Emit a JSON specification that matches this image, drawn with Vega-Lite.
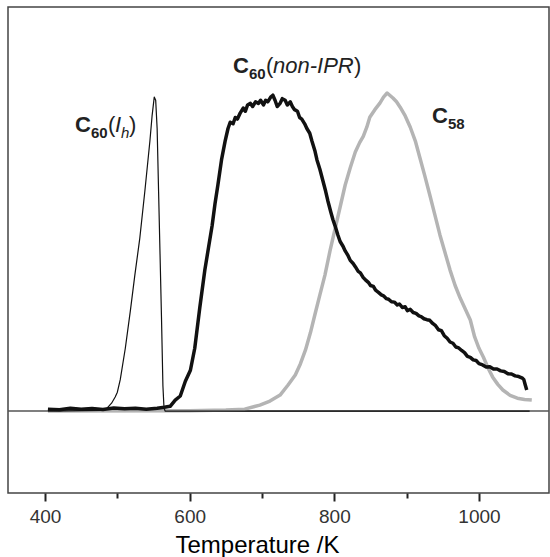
{
  "$schema": "https://vega.github.io/schema/vega-lite/v6.json",
  "width": 541,
  "height": 486,
  "autosize": "none",
  "padding": {"left": 8, "top": 7, "right": 1, "bottom": 64},
  "background": "white",
  "config": {
    "view": {"stroke": "#444", "strokeWidth": 1.5}
  },
  "datasets": {
    "curves": [
      {"s": "base", "T": 348.8, "v": 0},
      {"s": "base", "T": 1096.8, "v": 0},

      {"s": "Ih", "T": 404, "v": 0},
      {"s": "Ih", "T": 480, "v": 0.002},
      {"s": "Ih", "T": 486, "v": 0.01},
      {"s": "Ih", "T": 492, "v": 0.025},
      {"s": "Ih", "T": 497, "v": 0.045},
      {"s": "Ih", "T": 500, "v": 0.06},
      {"s": "Ih", "T": 504, "v": 0.1},
      {"s": "Ih", "T": 511, "v": 0.2},
      {"s": "Ih", "T": 518, "v": 0.32},
      {"s": "Ih", "T": 524, "v": 0.43},
      {"s": "Ih", "T": 531, "v": 0.55},
      {"s": "Ih", "T": 538, "v": 0.7},
      {"s": "Ih", "T": 545, "v": 0.86},
      {"s": "Ih", "T": 548, "v": 0.94},
      {"s": "Ih", "T": 551, "v": 1.0},
      {"s": "Ih", "T": 553, "v": 0.99},
      {"s": "Ih", "T": 555, "v": 0.9},
      {"s": "Ih", "T": 557, "v": 0.7},
      {"s": "Ih", "T": 559, "v": 0.5},
      {"s": "Ih", "T": 561, "v": 0.3},
      {"s": "Ih", "T": 563, "v": 0.08},
      {"s": "Ih", "T": 564.5, "v": 0.01},
      {"s": "Ih", "T": 566, "v": 0},
      {"s": "Ih", "T": 1070, "v": 0},

      {"s": "C58", "T": 404, "v": 0},
      {"s": "C58", "T": 600, "v": 0.001},
      {"s": "C58", "T": 650, "v": 0.003},
      {"s": "C58", "T": 676, "v": 0.006},
      {"s": "C58", "T": 697, "v": 0.019},
      {"s": "C58", "T": 711, "v": 0.032},
      {"s": "C58", "T": 725, "v": 0.051},
      {"s": "C58", "T": 736, "v": 0.083},
      {"s": "C58", "T": 746, "v": 0.115},
      {"s": "C58", "T": 753, "v": 0.15},
      {"s": "C58", "T": 760, "v": 0.194},
      {"s": "C58", "T": 767, "v": 0.25},
      {"s": "C58", "T": 773, "v": 0.306},
      {"s": "C58", "T": 780, "v": 0.37},
      {"s": "C58", "T": 787, "v": 0.433},
      {"s": "C58", "T": 794, "v": 0.51},
      {"s": "C58", "T": 801, "v": 0.58},
      {"s": "C58", "T": 808, "v": 0.65},
      {"s": "C58", "T": 815, "v": 0.72},
      {"s": "C58", "T": 822, "v": 0.775},
      {"s": "C58", "T": 829, "v": 0.825},
      {"s": "C58", "T": 835, "v": 0.855},
      {"s": "C58", "T": 840, "v": 0.875},
      {"s": "C58", "T": 845, "v": 0.905},
      {"s": "C58", "T": 849, "v": 0.936},
      {"s": "C58", "T": 856, "v": 0.96},
      {"s": "C58", "T": 863, "v": 0.981},
      {"s": "C58", "T": 868, "v": 1.0},
      {"s": "C58", "T": 873, "v": 1.013},
      {"s": "C58", "T": 877, "v": 1.005},
      {"s": "C58", "T": 881, "v": 0.997},
      {"s": "C58", "T": 886, "v": 0.985},
      {"s": "C58", "T": 891, "v": 0.968},
      {"s": "C58", "T": 898, "v": 0.94},
      {"s": "C58", "T": 905, "v": 0.904},
      {"s": "C58", "T": 912, "v": 0.86},
      {"s": "C58", "T": 918, "v": 0.809},
      {"s": "C58", "T": 925, "v": 0.75},
      {"s": "C58", "T": 932, "v": 0.688},
      {"s": "C58", "T": 939, "v": 0.625},
      {"s": "C58", "T": 946, "v": 0.561},
      {"s": "C58", "T": 953, "v": 0.505},
      {"s": "C58", "T": 960, "v": 0.449},
      {"s": "C58", "T": 967, "v": 0.4},
      {"s": "C58", "T": 974, "v": 0.36},
      {"s": "C58", "T": 981, "v": 0.325},
      {"s": "C58", "T": 988, "v": 0.29},
      {"s": "C58", "T": 994, "v": 0.236},
      {"s": "C58", "T": 1000, "v": 0.2},
      {"s": "C58", "T": 1006, "v": 0.172},
      {"s": "C58", "T": 1013, "v": 0.135},
      {"s": "C58", "T": 1019, "v": 0.108},
      {"s": "C58", "T": 1026, "v": 0.085},
      {"s": "C58", "T": 1033, "v": 0.067},
      {"s": "C58", "T": 1043, "v": 0.05},
      {"s": "C58", "T": 1053, "v": 0.041},
      {"s": "C58", "T": 1063, "v": 0.037},
      {"s": "C58", "T": 1073, "v": 0.035},

      {"s": "nIPR", "T": 404, "v": 0.006},
      {"s": "nIPR", "T": 420, "v": 0.004},
      {"s": "nIPR", "T": 435, "v": 0.009},
      {"s": "nIPR", "T": 450, "v": 0.006},
      {"s": "nIPR", "T": 465, "v": 0.008},
      {"s": "nIPR", "T": 480, "v": 0.005},
      {"s": "nIPR", "T": 495, "v": 0.01},
      {"s": "nIPR", "T": 510, "v": 0.007},
      {"s": "nIPR", "T": 525, "v": 0.009},
      {"s": "nIPR", "T": 540, "v": 0.006},
      {"s": "nIPR", "T": 555, "v": 0.009},
      {"s": "nIPR", "T": 565, "v": 0.012},
      {"s": "nIPR", "T": 573, "v": 0.015},
      {"s": "nIPR", "T": 580, "v": 0.035},
      {"s": "nIPR", "T": 587, "v": 0.048},
      {"s": "nIPR", "T": 594, "v": 0.095},
      {"s": "nIPR", "T": 601, "v": 0.13},
      {"s": "nIPR", "T": 607, "v": 0.2},
      {"s": "nIPR", "T": 614, "v": 0.33},
      {"s": "nIPR", "T": 621, "v": 0.45},
      {"s": "nIPR", "T": 626, "v": 0.52},
      {"s": "nIPR", "T": 631, "v": 0.59},
      {"s": "nIPR", "T": 635, "v": 0.66},
      {"s": "nIPR", "T": 639, "v": 0.72},
      {"s": "nIPR", "T": 644, "v": 0.8},
      {"s": "nIPR", "T": 649, "v": 0.86},
      {"s": "nIPR", "T": 653, "v": 0.9},
      {"s": "nIPR", "T": 656, "v": 0.92},
      {"s": "nIPR", "T": 660, "v": 0.915},
      {"s": "nIPR", "T": 663, "v": 0.935},
      {"s": "nIPR", "T": 666, "v": 0.93},
      {"s": "nIPR", "T": 670, "v": 0.95},
      {"s": "nIPR", "T": 674, "v": 0.965},
      {"s": "nIPR", "T": 677, "v": 0.955},
      {"s": "nIPR", "T": 680, "v": 0.975},
      {"s": "nIPR", "T": 684, "v": 0.98},
      {"s": "nIPR", "T": 687, "v": 0.97},
      {"s": "nIPR", "T": 691, "v": 0.985},
      {"s": "nIPR", "T": 695, "v": 0.98},
      {"s": "nIPR", "T": 698, "v": 0.99},
      {"s": "nIPR", "T": 702, "v": 0.975},
      {"s": "nIPR", "T": 705, "v": 0.99},
      {"s": "nIPR", "T": 708, "v": 0.985},
      {"s": "nIPR", "T": 712, "v": 1.0},
      {"s": "nIPR", "T": 715, "v": 1.006},
      {"s": "nIPR", "T": 718, "v": 0.99},
      {"s": "nIPR", "T": 721, "v": 0.97},
      {"s": "nIPR", "T": 725, "v": 0.98},
      {"s": "nIPR", "T": 728, "v": 0.995},
      {"s": "nIPR", "T": 732, "v": 0.99},
      {"s": "nIPR", "T": 735, "v": 0.975},
      {"s": "nIPR", "T": 739, "v": 0.985},
      {"s": "nIPR", "T": 742, "v": 0.97},
      {"s": "nIPR", "T": 745, "v": 0.96},
      {"s": "nIPR", "T": 749, "v": 0.955},
      {"s": "nIPR", "T": 752, "v": 0.935},
      {"s": "nIPR", "T": 755, "v": 0.93},
      {"s": "nIPR", "T": 759, "v": 0.915},
      {"s": "nIPR", "T": 762, "v": 0.9},
      {"s": "nIPR", "T": 766, "v": 0.885},
      {"s": "nIPR", "T": 769, "v": 0.86},
      {"s": "nIPR", "T": 773, "v": 0.83},
      {"s": "nIPR", "T": 776, "v": 0.8},
      {"s": "nIPR", "T": 780, "v": 0.77},
      {"s": "nIPR", "T": 784, "v": 0.735},
      {"s": "nIPR", "T": 788, "v": 0.7},
      {"s": "nIPR", "T": 791, "v": 0.67},
      {"s": "nIPR", "T": 795, "v": 0.635},
      {"s": "nIPR", "T": 798, "v": 0.61},
      {"s": "nIPR", "T": 801, "v": 0.59},
      {"s": "nIPR", "T": 805, "v": 0.56},
      {"s": "nIPR", "T": 808, "v": 0.54},
      {"s": "nIPR", "T": 812, "v": 0.525},
      {"s": "nIPR", "T": 815, "v": 0.51},
      {"s": "nIPR", "T": 819, "v": 0.495},
      {"s": "nIPR", "T": 822, "v": 0.48},
      {"s": "nIPR", "T": 826, "v": 0.47},
      {"s": "nIPR", "T": 829, "v": 0.46},
      {"s": "nIPR", "T": 833, "v": 0.445},
      {"s": "nIPR", "T": 836, "v": 0.44},
      {"s": "nIPR", "T": 840, "v": 0.425},
      {"s": "nIPR", "T": 843, "v": 0.418},
      {"s": "nIPR", "T": 847, "v": 0.41},
      {"s": "nIPR", "T": 850, "v": 0.4},
      {"s": "nIPR", "T": 854, "v": 0.397},
      {"s": "nIPR", "T": 857, "v": 0.385},
      {"s": "nIPR", "T": 861, "v": 0.378},
      {"s": "nIPR", "T": 865, "v": 0.37},
      {"s": "nIPR", "T": 868, "v": 0.367},
      {"s": "nIPR", "T": 872, "v": 0.358},
      {"s": "nIPR", "T": 875, "v": 0.356},
      {"s": "nIPR", "T": 879, "v": 0.348},
      {"s": "nIPR", "T": 883, "v": 0.347},
      {"s": "nIPR", "T": 887, "v": 0.338},
      {"s": "nIPR", "T": 890, "v": 0.341},
      {"s": "nIPR", "T": 894, "v": 0.33},
      {"s": "nIPR", "T": 898, "v": 0.332},
      {"s": "nIPR", "T": 901, "v": 0.32},
      {"s": "nIPR", "T": 905, "v": 0.324},
      {"s": "nIPR", "T": 909, "v": 0.314},
      {"s": "nIPR", "T": 913, "v": 0.311},
      {"s": "nIPR", "T": 917, "v": 0.303},
      {"s": "nIPR", "T": 920, "v": 0.301},
      {"s": "nIPR", "T": 924, "v": 0.294},
      {"s": "nIPR", "T": 928, "v": 0.291},
      {"s": "nIPR", "T": 932, "v": 0.289},
      {"s": "nIPR", "T": 936, "v": 0.279},
      {"s": "nIPR", "T": 940, "v": 0.272},
      {"s": "nIPR", "T": 944, "v": 0.259},
      {"s": "nIPR", "T": 948, "v": 0.256},
      {"s": "nIPR", "T": 952, "v": 0.24},
      {"s": "nIPR", "T": 956, "v": 0.232},
      {"s": "nIPR", "T": 960, "v": 0.22},
      {"s": "nIPR", "T": 964, "v": 0.216},
      {"s": "nIPR", "T": 968, "v": 0.204},
      {"s": "nIPR", "T": 972, "v": 0.201},
      {"s": "nIPR", "T": 976, "v": 0.193},
      {"s": "nIPR", "T": 980, "v": 0.186},
      {"s": "nIPR", "T": 984, "v": 0.174},
      {"s": "nIPR", "T": 988, "v": 0.171},
      {"s": "nIPR", "T": 992, "v": 0.163},
      {"s": "nIPR", "T": 996, "v": 0.161},
      {"s": "nIPR", "T": 1000, "v": 0.151},
      {"s": "nIPR", "T": 1005, "v": 0.147},
      {"s": "nIPR", "T": 1010, "v": 0.14},
      {"s": "nIPR", "T": 1015, "v": 0.141},
      {"s": "nIPR", "T": 1020, "v": 0.134},
      {"s": "nIPR", "T": 1025, "v": 0.134},
      {"s": "nIPR", "T": 1030, "v": 0.128},
      {"s": "nIPR", "T": 1035, "v": 0.126},
      {"s": "nIPR", "T": 1040, "v": 0.119},
      {"s": "nIPR", "T": 1045, "v": 0.118},
      {"s": "nIPR", "T": 1050, "v": 0.112},
      {"s": "nIPR", "T": 1055, "v": 0.11},
      {"s": "nIPR", "T": 1060, "v": 0.105},
      {"s": "nIPR", "T": 1062, "v": 0.1},
      {"s": "nIPR", "T": 1064, "v": 0.083},
      {"s": "nIPR", "T": 1066, "v": 0.067}
    ],
    "labels": [
      {"p": "b", "t": "C", "T": 441.5, "v": 0.889},
      {"p": "bs", "t": "60", "T": 463.6, "v": 0.889},
      {"p": "r", "t": "(", "T": 487.1, "v": 0.889},
      {"p": "i", "t": "I", "T": 496.8, "v": 0.889},
      {"p": "is", "t": "h", "T": 505.1, "v": 0.889},
      {"p": "r", "t": ")", "T": 516.1, "v": 0.889},
      {"p": "b", "t": "C", "T": 659.9, "v": 1.076},
      {"p": "bs", "t": "60", "T": 682.0, "v": 1.076},
      {"p": "r", "t": "(", "T": 705.5, "v": 1.076},
      {"p": "i", "t": "non-IPR", "T": 715.2, "v": 1.076},
      {"p": "r", "t": ")", "T": 827.2, "v": 1.076},
      {"p": "b", "t": "C", "T": 935.1, "v": 0.917},
      {"p": "bs", "t": "58", "T": 957.2, "v": 0.917}
    ]
  },
  "encoding": {
    "x": {
      "field": "T",
      "type": "quantitative",
      "title": "Temperature /K",
      "scale": {"domain": [348.8, 1096.8], "nice": false, "zero": false},
      "axis": {
        "values": [400, 500, 600, 700, 800, 900, 1000],
        "format": "d",
        "labelExpr": "datum.value % 200 === 0 ? datum.label : ''",
        "domain": false,
        "grid": false,
        "ticks": true,
        "tickColor": "#222",
        "tickWidth": 2,
        "tickSize": {"condition": {"test": "datum.value % 200 === 0", "value": 8}, "value": 5},
        "labelFont": "Liberation Sans",
        "labelFontSize": 19,
        "labelColor": "#333",
        "labelPadding": 6,
        "titleFont": "Liberation Sans",
        "titleFontSize": 24,
        "titleFontWeight": "normal",
        "titleColor": "#000",
        "titleX": 249,
        "titleY": 59,
        "titleAlign": "center",
        "titleBaseline": "alphabetic"
      }
    },
    "y": {"field": "v", "type": "quantitative", "scale": {"domain": [-0.261, 1.287], "nice": false, "zero": false}, "axis": null}
  },
  "layer": [
    {
      "data": {"name": "curves"},
      "transform": [{"filter": "datum.s === 'base'"}],
      "mark": {"type": "line", "color": "#555", "strokeWidth": 1.5}
    },
    {
      "data": {"name": "curves"},
      "transform": [{"filter": "datum.s === 'C58'"}],
      "mark": {"type": "line", "color": "#b4b4b4", "strokeWidth": 3.5, "strokeJoin": "round"}
    },
    {
      "data": {"name": "curves"},
      "transform": [{"filter": "datum.s === 'Ih'"}],
      "mark": {"type": "line", "color": "#111", "strokeWidth": 1.2, "strokeJoin": "round"}
    },
    {
      "data": {"name": "curves"},
      "transform": [{"filter": "datum.s === 'nIPR'"}],
      "mark": {"type": "line", "color": "#111", "strokeWidth": 3.5, "strokeJoin": "round"}
    },
    {
      "data": {"name": "labels"},
      "transform": [{"filter": "datum.p === 'b'"}],
      "mark": {"type": "text", "align": "left", "baseline": "alphabetic", "font": "Liberation Sans", "fontSize": 22, "fontWeight": "bold", "color": "#222"},
      "encoding": {"text": {"field": "t"}}
    },
    {
      "data": {"name": "labels"},
      "transform": [{"filter": "datum.p === 'bs'"}],
      "mark": {"type": "text", "align": "left", "baseline": "alphabetic", "font": "Liberation Sans", "fontSize": 15, "fontWeight": "bold", "color": "#222", "dy": 6},
      "encoding": {"text": {"field": "t"}}
    },
    {
      "data": {"name": "labels"},
      "transform": [{"filter": "datum.p === 'r'"}],
      "mark": {"type": "text", "align": "left", "baseline": "alphabetic", "font": "Liberation Sans", "fontSize": 22, "color": "#222"},
      "encoding": {"text": {"field": "t"}}
    },
    {
      "data": {"name": "labels"},
      "transform": [{"filter": "datum.p === 'i'"}],
      "mark": {"type": "text", "align": "left", "baseline": "alphabetic", "font": "Liberation Sans", "fontSize": 22, "fontStyle": "italic", "color": "#222"},
      "encoding": {"text": {"field": "t"}}
    },
    {
      "data": {"name": "labels"},
      "transform": [{"filter": "datum.p === 'is'"}],
      "mark": {"type": "text", "align": "left", "baseline": "alphabetic", "font": "Liberation Sans", "fontSize": 15, "fontStyle": "italic", "color": "#222", "dy": 6},
      "encoding": {"text": {"field": "t"}}
    }
  ]
}
